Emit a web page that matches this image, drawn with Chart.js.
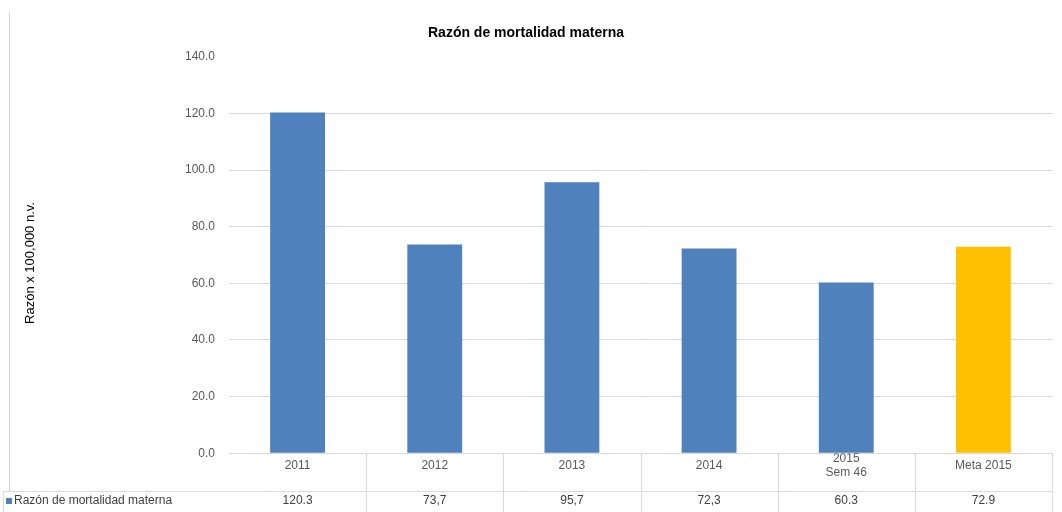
<!DOCTYPE html>
<html>
<head>
<meta charset="utf-8">
<script src="https://cdn.jsdelivr.net/npm/chart.js@4.4.0/dist/chart.umd.min.js"></script>
<style>
html,body{margin:0;padding:0;background:#fff;}
#wrap{width:1062px;height:512px;position:relative;}
</style>
</head>
<body>
<div id="wrap"><canvas id="c" width="1062" height="512"></canvas></div>
<script>
const categories = ['2011', '2012', '2013', '2014', ['2015', 'Sem 46'], 'Meta 2015'];
const values = [120.3, 73.7, 95.7, 72.3, 60.3, 72.9];
const tableLabels = ['120.3', '73,7', '95,7', '72,3', '60.3', '72.9'];
const barColors = ['#4F81BD', '#4F81BD', '#4F81BD', '#4F81BD', '#4F81BD', '#FFC000'];
const seriesName = 'Razón de mortalidad materna';
const chartTitle = 'Razón de mortalidad materna';
const yTitle = 'Razón x 100,000 n.v.';
const yMin = 0, yMax = 140, yStep = 20;

const FONT = '"Liberation Sans", Arial, sans-serif';

const tablePlugin = {
  id: 'tablePlugin',
  afterDraw(chart) {
    const ctx = chart.ctx;
    const x = chart.scales.x;
    const area = chart.chartArea;
    const n = categories.length;
    const step = (x.getPixelForValue(1) - x.getPixelForValue(0));
    const rowTop = Math.round(x.bottom) - 1;
    const rowMid = rowTop + 10;
    ctx.save();
    // left frame line
    ctx.strokeStyle = '#d4d4d4';
    ctx.lineWidth = 1;
    ctx.beginPath();
    ctx.moveTo(9.5, 12); ctx.lineTo(9.5, rowTop);
    ctx.stroke();
    // table lines
    ctx.strokeStyle = '#d9d9d9';
    ctx.beginPath();
    ctx.moveTo(3, rowTop + 0.5); ctx.lineTo(area.right, rowTop + 0.5);
    ctx.moveTo(3.5, rowTop); ctx.lineTo(3.5, 512);
    for (let i = 1; i < n; i++) {
      const bx = Math.round(x.getPixelForValue(i) - step / 2) + 0.5;
      ctx.moveTo(bx, area.bottom); ctx.lineTo(bx, 512);
    }
    ctx.moveTo(area.right + 0.5, area.bottom); ctx.lineTo(area.right + 0.5, 512);
    ctx.stroke();
    // legend key
    ctx.fillStyle = barColors[0];
    ctx.fillRect(6, rowMid - 3, 6, 6);
    ctx.fillStyle = '#404040';
    ctx.font = '12px ' + FONT;
    ctx.textBaseline = 'middle';
    ctx.textAlign = 'left';
    ctx.fillText(seriesName, 14, rowMid);
    ctx.textAlign = 'center';
    for (let i = 0; i < n; i++) {
      ctx.fillText(tableLabels[i], x.getPixelForValue(i), rowMid);
    }
    // y title
    ctx.translate(30, 263);
    ctx.rotate(-Math.PI / 2);
    ctx.fillStyle = '#000';
    ctx.font = '13px ' + FONT;
    ctx.fillText(yTitle, 0, 0);
    ctx.restore();
  }
};

new Chart(document.getElementById('c'), {
  type: 'bar',
  data: {
    labels: categories,
    datasets: [{
      label: seriesName,
      data: values,
      backgroundColor: barColors,
      borderWidth: 0,
      barPercentage: 0.4,
      categoryPercentage: 1.0
    }]
  },
  options: {
    responsive: false,
    animation: false,
    layout: { padding: { left: 0, right: 10, top: 0, bottom: 20 } },
    plugins: {
      legend: { display: false },
      tooltip: { enabled: false },
      title: {
        display: true,
        text: chartTitle,
        color: '#000',
        font: { family: FONT, size: 14, weight: 'bold' },
        padding: { top: 25, bottom: 15 }
      }
    },
    scales: {
      x: {
        grid: {
          display: true,
          drawOnChartArea: false,
          drawTicks: false,
          color: '#d9d9d9'
        },
        border: { display: true, color: '#d9d9d9' },
        ticks: {
          color: '#595959',
          font: { family: FONT, size: 12 },
          padding: 5,
          crossAlign: 'center',
          maxRotation: 0,
          autoSkip: false
        }
      },
      y: {
        min: yMin,
        max: yMax,
        afterFit(scale) { scale.width = 229; },
        grid: {
          color: (c) => (c.tick && c.tick.value === yMax) ? 'rgba(0,0,0,0)' : '#d9d9d9',
          drawTicks: false
        },
        border: { display: false },
        ticks: {
          stepSize: yStep,
          color: '#595959',
          font: { family: FONT, size: 12 },
          padding: 14,
          callback: (v) => Number(v).toFixed(1)
        }
      }
    }
  },
  plugins: [tablePlugin]
});
</script>
</body>
</html>
